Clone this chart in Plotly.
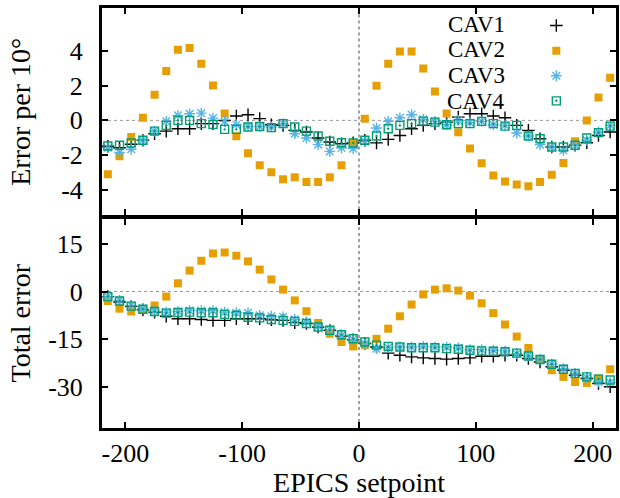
import plotly.graph_objects as go
from plotly.subplots import make_subplots

x = list(range(-215, 216, 10))

# Error per 10 degrees (top panel)
cav1_err = [-1.5, -1.58, -1.38, -1.15, -0.77, -0.62, -0.48, -0.48, -0.19, -0.19, 0.0,
            0.25, 0.33, 0.1, -0.25, -0.29, -0.58, -0.67, -1.02, -1.25, -1.35,
            -1.3, -1.15, -1.3, -1.1, -0.87, -0.48, -0.29, -0.19, -0.1, 0.19,
            0.38, 0.38, 0.25, 0.15, -0.29, -0.58, -1.06, -1.54, -1.54, -1.44,
            -1.29, -0.87, -0.67]
cav2_err = [-3.11, -2.07, -0.96, 0.15, 1.48, 2.86, 4.09, 4.19, 3.27, 2.02, 0.40,
            -0.92, -1.90, -2.59, -3.0, -3.40, -3.29, -3.57, -3.57, -3.29, -2.59,
            -1.35, 0.1, 2.0, 3.27, 3.98, 3.98, 3.0, 1.67, 0.4, -0.69,
            -1.63, -2.48, -3.19, -3.54, -3.71, -3.81, -3.56, -3.15, -2.46, -1.2,
            0.0, 1.33, 2.46]
cav3_err = [-1.58, -1.86, -1.67, -1.15, -0.63, -0.06, 0.29, 0.38, 0.42, 0.13, -0.06,
            -0.25, -0.35, -0.35, -0.38, -0.19, -0.77, -1.02, -1.40, -1.79, -1.6,
            -1.63, -1.21, -0.44, -0.06, 0.15, 0.33, 0.06, -0.06, -0.25, 0.0,
            -0.13, -0.06, -0.25, -0.29, -0.73, -0.9, -1.40, -1.54, -1.73, -1.44,
            -1.15, -0.67, -0.29]
cav4_err = [-1.48, -1.44, -1.31, -1.15, -0.62, -0.29, 0.0, 0.0, -0.19, -0.23, -0.52,
            -0.52, -0.38, -0.35, -0.42, -0.19, -0.38, -0.62, -0.9, -1.21, -1.29,
            -1.31, -1.15, -0.9, -0.48, -0.29, -0.19, -0.04, -0.1, -0.25, -0.19,
            -0.19, -0.06, -0.19, -0.33, -0.29, -0.9, -1.06, -1.54, -1.54, -1.44,
            -1.02, -0.71, -0.33]

# Total error (bottom panel)
cav1_tot = [-1.6, -3.3, -4.7, -5.8, -6.5, -7.8, -8.6, -8.6, -8.8, -9.1, -9.1,
            -8.6, -8.6, -8.6, -8.9, -9.1, -9.8, -10.1, -11.2, -12.2, -14.0,
            -15.2, -16.4, -17.5, -19.4, -20.1, -20.6, -20.9, -21.1, -21.3, -21.1,
            -20.9, -20.4, -20.4, -20.1, -20.1, -21.1, -22.2, -23.7, -24.8, -26.4,
            -27.4, -29.0, -30.0]
cav2_tot = [-3.0, -5.4, -6.3, -5.5, -4.4, -1.6, 2.6, 6.6, 9.7, 12.0, 12.3,
            11.3, 9.5, 6.9, 3.8, 0.6, -2.8, -6.2, -9.9, -13.3, -15.9,
            -17.3, -16.9, -14.9, -11.7, -7.8, -4.1, -0.9, 0.6, 1.0, 0.3,
            -1.3, -3.7, -6.8, -10.4, -14.2, -17.8, -21.3, -24.8, -26.9, -28.5,
            -28.8, -27.4, -24.5]
cav3_tot = [-1.6, -2.8, -4.4, -5.4, -6.2, -6.5, -6.3, -6.0, -6.0, -6.0, -6.5,
            -6.7, -6.7, -7.5, -7.8, -8.0, -8.8, -9.6, -11.0, -12.0, -13.8,
            -15.1, -16.4, -18.0, -17.7, -17.5, -17.5, -17.3, -17.5, -17.5, -17.8,
            -18.3, -18.3, -18.5, -18.7, -19.6, -20.3, -21.3, -22.9, -24.3, -25.8,
            -27.1, -28.5, -28.7]
cav4_tot = [-1.6, -3.0, -4.6, -5.6, -6.3, -6.8, -6.6, -6.5, -6.7, -6.7, -7.2,
            -7.5, -8.1, -8.3, -8.8, -9.1, -9.4, -10.1, -11.2, -12.2, -13.6,
            -14.9, -15.9, -16.9, -17.3, -17.5, -17.7, -17.7, -17.7, -18.0, -18.2,
            -18.5, -18.7, -18.8, -19.0, -19.4, -20.3, -21.4, -22.9, -24.5, -25.8,
            -26.9, -27.6, -27.9]

names = ["CAV1", "CAV2", "CAV3", "CAV4"]
x_ticks = [-200, -100, 0, 100, 200]
x_ticklabels = ["-200", "-100", "0", "100", "200"]
top_ticks = [-4, -2, 0, 2, 4]
top_ticklabels = ["-4", "-2", "0", "2", "4"]
bot_ticks = [-30, -15, 0, 15]
bot_ticklabels = ["-30", "-15", "0", "15"]

top_series = [cav1_err, cav2_err, cav3_err, cav4_err]
bot_series = [cav1_tot, cav2_tot, cav3_tot, cav4_tot]
styles = [
    dict(symbol="cross-thin-open", size=9, color="black", line=dict(color="black", width=1.4)),
    dict(symbol="square", size=8, color="#E69F00", line=dict(width=0)),
    dict(symbol="asterisk-open", size=9, color="#56B4E9", line=dict(color="#56B4E9", width=1.4)),
    dict(symbol="square-open-dot", size=8, color="#009E73", line=dict(color="#009E73", width=1.4)),
]

fig = make_subplots(rows=2, cols=1, shared_xaxes=True, vertical_spacing=0)

for i in range(4):
    fig.add_trace(go.Scatter(x=x, y=top_series[i], mode="markers", name=names[i],
                             marker=styles[i], showlegend=False), row=1, col=1)
for i in range(4):
    fig.add_trace(go.Scatter(x=x, y=bot_series[i], mode="markers", name=names[i],
                             marker=styles[i], showlegend=False), row=2, col=1)
# key symbols (gnuplot style: symbol drawn to the right of its label)
for i in range(4):
    fig.add_trace(go.Scatter(x=[None], y=[None], mode="markers", name="",
                             legendgroup=names[i], marker=styles[i], showlegend=True,
                             hoverinfo="skip"), row=1, col=1)

font = "Liberation Serif, Times New Roman, serif"
tick_font = dict(family=font, size=26, color="black")
title_font = dict(family=font, size=28, color="black")
axis_common = dict(showline=True, linewidth=3, linecolor="black", mirror="ticks",
                   ticks="inside", ticklen=6, tickwidth=1.5, tickcolor="black",
                   showgrid=False, zeroline=False, tickfont=tick_font)

fig.update_xaxes(range=[-220, 220], tickvals=x_ticks, ticktext=x_ticklabels, **axis_common)
fig.update_xaxes(showticklabels=False, row=1, col=1)
fig.update_xaxes(title=dict(text="EPICS setpoint", font=title_font, standoff=0),
                 ticklabelstandoff=0, row=2, col=1)
fig.update_yaxes(range=[-5.5, 6.5], tickvals=top_ticks, ticktext=top_ticklabels, domain=[0.506, 1],
                 title=dict(text="Error per 10°", font=title_font, standoff=23),
                 ticklabelstandoff=11, row=1, col=1, **axis_common)
fig.update_yaxes(range=[-43, 23], tickvals=bot_ticks, ticktext=bot_ticklabels, domain=[0, 0.4988],
                 title=dict(text="Total error", font=title_font, standoff=10),
                 ticklabelstandoff=11, row=2, col=1, **axis_common)

# dotted zero lines
for xr, yr in [("x", "y"), ("x2", "y2")]:
    fig.add_shape(type="line", xref=xr + " domain", yref=yr, x0=0, x1=1, y0=0, y1=0,
                  line=dict(color="#999999", width=1, dash="dot"), layer="below")
    fig.add_shape(type="line", xref=xr, yref=yr + " domain", x0=0, x1=0, y0=0, y1=1,
                  line=dict(color="#444444", width=1, dash="dot"), layer="below")

# key labels
row_y = [0.9619, 0.90, 0.8381, 0.7762]
for name, yy in zip(names, row_y):
    fig.add_annotation(text=name, xref="paper", yref="paper", x=0.788, y=yy,
                       xanchor="right", yanchor="middle", showarrow=False,
                       font=dict(family=font, size=23, color="black"))

fig.update_layout(
    width=620, height=498,
    margin=dict(l=102, r=4, t=8, b=70, autoexpand=False),
    paper_bgcolor="white", plot_bgcolor="white",
    font=dict(family=font, size=22, color="black"),
    legend=dict(x=0.845, xanchor="left", y=1.0, yanchor="top",
                bgcolor="rgba(0,0,0,0)", font=dict(family=font, size=17, color="black"),
                tracegroupgap=0, itemwidth=30),
    showlegend=True,
)

fig.write_html("out.html")
